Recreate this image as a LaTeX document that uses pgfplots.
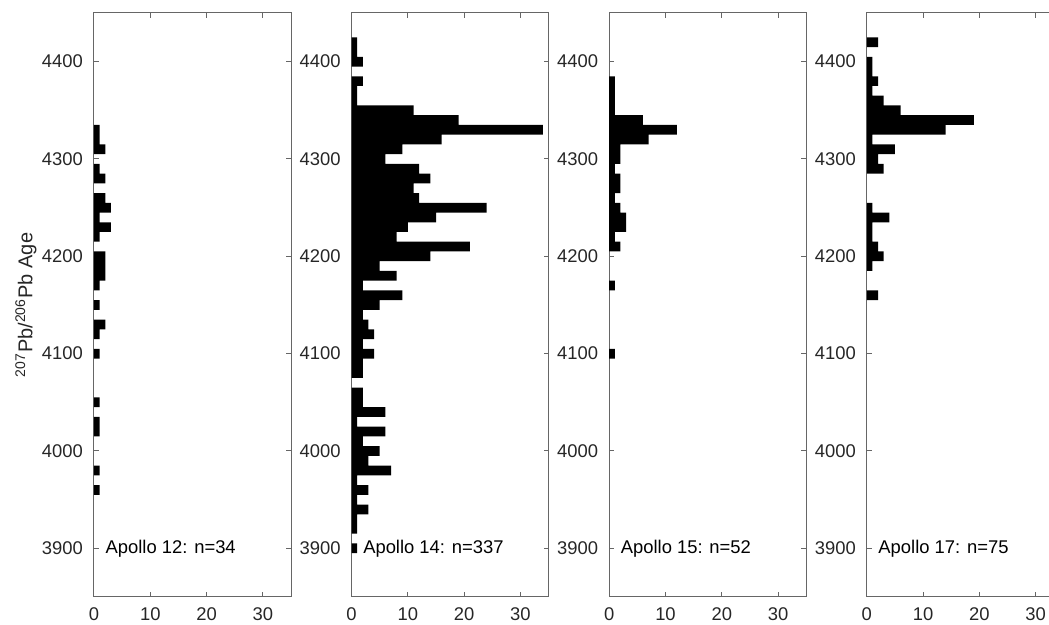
\documentclass[border=0pt]{standalone}
\usepackage{fontspec}
\setmainfont{Liberation Sans}
\usepackage{pgfplots}
\pgfplotsset{compat=1.18}
\newcommand{\fs}{\fontsize{9.2}{11}\selectfont}
\pgfplotsset{
 panel/.style={
  scale only axis, width=98.5pt, height=292pt, anchor=south west,
  xmin=0, xmax=35, ymin=3850, ymax=4450,
  xtick={0,10,20,30}, ytick={3900,4000,4100,4200,4300,4400},
  tick align=inside, major tick length=2.5pt,
  axis line style={black!60, line width=0.5pt},
  every tick/.style={black!60, line width=0.5pt},
  tick label style={font=\fs, text=black!85},
  /pgf/number format/assume math mode=true,
  /pgf/number format/1000 sep={},
  yticklabel style={xshift=-2pt},
  xticklabel style={yshift=-2pt},
 },
 hbar/.style={xbar, bar width=10, bar shift=0pt, fill=black, draw=none},
}
\tikzset{lab/.style={anchor=west, inner sep=0pt, font=\fs, text=black}}
\begin{document}
\begin{tikzpicture}
\begin{axis}[panel, at={(47pt,14pt)}, ylabel={\textsuperscript{207}Pb/\textsuperscript{206}Pb Age},
  ylabel style={font=\fontsize{10}{12}\selectfont, text=black!85, at={(axis description cs:-0.256,0.5)}, anchor=south}]
\addplot[hbar] coordinates {(1,4330)(1,4320)(2,4310)(1,4290)(2,4280)(2,4260)(3,4250)(1,4240)(3,4230)(1,4220)(2,4200)(2,4190)(2,4180)(1,4170)(1,4150)(2,4130)(1,4120)(1,4100)(1,4050)(1,4030)(1,4020)(1,3980)(1,3960)};
\node[lab] at (axis cs:2,3900) {Apollo 12: n=34};
\end{axis}
\begin{axis}[panel, at={(175.8pt,14pt)}]
\addplot[hbar] coordinates {(1,4420)(1,4410)(2,4400)(2,4380)(1,4370)(1,4360)(11,4350)(19,4340)(34,4330)(16,4320)(9,4310)(6,4300)(12,4290)(14,4280)(11,4270)(12,4260)(24,4250)(15,4240)(10,4230)(8,4220)(21,4210)(14,4200)(5,4190)(8,4180)(2,4170)(9,4160)(5,4150)(2,4140)(3,4130)(4,4120)(2,4110)(4,4100)(2,4090)(2,4080)(2,4060)(2,4050)(6,4040)(1,4030)(6,4020)(2,4010)(5,4000)(3,3990)(7,3980)(1,3970)(3,3960)(1,3950)(3,3940)(1,3930)(1,3920)(1,3900)};
\node[lab] at (axis cs:2,3900) {Apollo 14: n=337};
\end{axis}
\begin{axis}[panel, at={(304.6pt,14pt)}]
\addplot[hbar] coordinates {(1,4380)(1,4370)(1,4360)(1,4350)(6,4340)(12,4330)(7,4320)(2,4310)(2,4300)(1,4290)(2,4280)(2,4270)(1,4260)(2,4250)(3,4240)(3,4230)(1,4220)(2,4210)(1,4170)(1,4100)};
\node[lab] at (axis cs:2,3900) {Apollo 15: n=52};
\end{axis}
\begin{axis}[panel, at={(433.4pt,14pt)}]
\addplot[hbar] coordinates {(2,4420)(1,4400)(1,4390)(2,4380)(1,4370)(3,4360)(6,4350)(19,4340)(14,4330)(1,4320)(5,4310)(2,4300)(3,4290)(1,4250)(4,4240)(1,4230)(1,4220)(2,4210)(3,4200)(1,4190)(2,4160)};
\node[lab] at (axis cs:2,3900) {Apollo 17: n=75};
\end{axis}
\pgfresetboundingbox
\path[use as bounding box] (0,0) rectangle (524.5pt,312.5pt);
\end{tikzpicture}
\end{document}
